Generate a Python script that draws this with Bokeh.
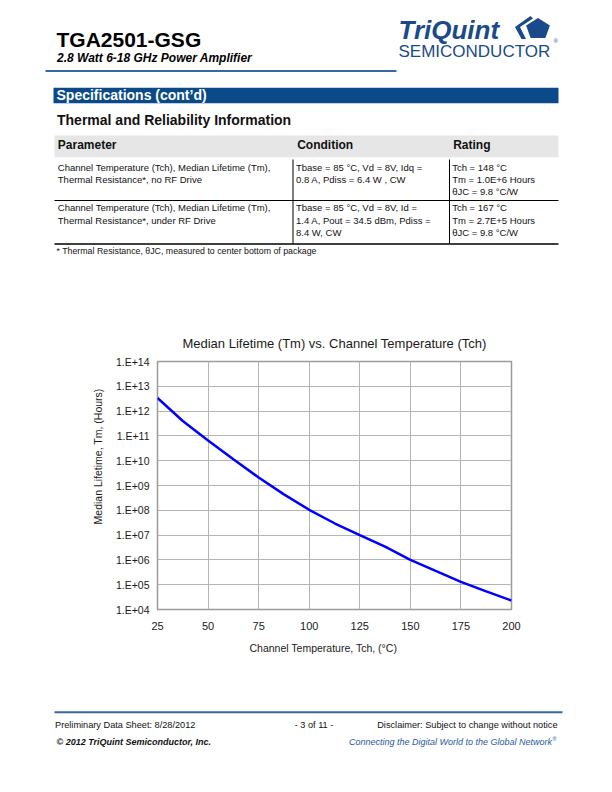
import numpy as np
from bokeh.plotting import figure
from bokeh.layouts import column
from bokeh.models import Range1d, FixedTicker, Title
from bokeh.core.properties import value
from bokeh.embed import file_html
from bokeh.resources import INLINE

# ---------------- data ----------------
temperature_c = [25, 37.5, 50, 62.5, 75, 87.5, 100, 112.5, 125, 137.5, 150, 162.5, 175, 187.5, 200]
median_lifetime_h = [3.4e12, 4.0e11, 6.5e10, 1.15e10, 2.1e9, 4.4e8, 1.05e8, 3.0e7, 1.0e7,
                     3.4e6, 1.0e6, 3.6e5, 1.3e5, 5.4e4, 2.3e4]
x_ticks = [25, 50, 75, 100, 125, 150, 175, 200]
y_ticks = [1e4, 1e5, 1e6, 1e7, 1e8, 1e9, 1e10, 1e11, 1e12, 1e13, 1e14]
y_tick_labels = ["1.E+04", "1.E+05", "1.E+06", "1.E+07", "1.E+08", "1.E+09",
                 "1.E+10", "1.E+11", "1.E+12", "1.E+13", "1.E+14"]

chart_title = "Median Lifetime (Tm) vs. Channel Temperature (Tch)"
x_label = "Channel Temperature, Tch, (°C)"
y_label = "Median Lifetime, Tm, (Hours)"

table_header = ["Parameter", "Condition", "Rating"]
row_parameter = [["Channel Temperature (Tch), Median Lifetime (Tm),", "Thermal Resistance*, no RF Drive"],
                 ["Channel Temperature (Tch), Median Lifetime (Tm),", "Thermal Resistance*, under RF Drive"]]
row_condition = [["Tbase = 85 °C, Vd = 8V, Idq =", "0.8 A, Pdiss = 6.4 W , CW"],
                 ["Tbase = 85 °C, Vd = 8V, Id =", "1.4 A, Pout = 34.5 dBm, Pdiss =", "8.4 W, CW"]]
row_rating = [["Tch = 148 °C", "Tm = 1.0E+6 Hours", "θJC  = 9.8 °C/W"],
              ["Tch = 167 °C", "Tm = 2.7E+5 Hours", "θJC  = 9.8 °C/W"]]
footnote = "* Thermal Resistance,  θJC, measured to center bottom of package"

FONT = "Liberation Sans"
BLUE = "#1a4a8a"
PAGE_W = 596


def page_fig(y_top, y_bottom):
    f = figure(width=PAGE_W, height=int(y_bottom - y_top), x_range=Range1d(0, PAGE_W),
               y_range=Range1d(y_bottom, y_top), output_backend="svg", toolbar_location=None,
               x_axis_location=None, y_axis_location=None, min_border=0)
    f.grid.visible = False
    f.outline_line_color = None
    f.background_fill_color = "white"
    f.border_fill_color = "white"
    f.frame_align = False
    return f


def txt(f, x, base, s, size, style="normal", color="#000000", align="left", font=FONT):
    f.text(x=[x], y=[base - 0.35 * size], text=[s], text_font=value(font),
           text_font_size=f"{size}px", text_font_style=style, text_color=color,
           text_align=align, text_baseline="middle")


# ---------------- top part of the page ----------------
top = page_fig(0, 320)
txt(top, 56, 46.7, "TGA2501-GSG", 21, "bold")
txt(top, 56.5, 62, "2.8 Watt 6-18 GHz Power Amplifier", 12, "bold italic")
top.segment(x0=[45], y0=[70.5], x1=[396], y1=[70.5], line_color="#3a66a3", line_width=2)

# logo
txt(top, 398, 38.5, "TriQuint", 26, "bold italic", BLUE)
txt(top, 398, 57, "SEMICONDUCTOR", 17, "normal", BLUE)
txt(top, 553, 43, "®", 6, "normal", BLUE)
ang = np.deg2rad(90 + np.arange(5) * 72)
top.patch(x=537.5 + 12.5 * np.cos(ang), y=28.5 - 11 * np.sin(ang), fill_color=BLUE, line_color=None)
top.patch(x=[530, 514.5, 521, 525.5, 519.5, 532.5], y=[15.5, 26.5, 38.5, 38.5, 26.5, 18],
          fill_color=BLUE, line_color=None)

# section bar
top.quad(left=[53], right=[558], top=[87.3], bottom=[102.7], fill_color="#0b4a88", line_color=None)
txt(top, 56, 99.5, "Specifications (cont’d)", 14, "bold", "white")
txt(top, 56.5, 124, "Thermal and Reliability Information", 14, "bold", "#111111")

# table
top.quad(left=[54], right=[558], top=[135], bottom=[156.7], fill_color="#e6e6e6", line_color=None)
col_x = [57.3, 295.5, 451.7]
for cx, h in zip([57.3, 296.7, 452.7], table_header):
    txt(top, cx, 148.5, h, 12, "bold", "#111111")
row_base = [170.0, 210.8]
for r in range(2):
    for ci, cell in enumerate([row_parameter[r], row_condition[r], row_rating[r]]):
        for li, line in enumerate(cell):
            txt(top, col_x[ci], row_base[r] + li * 12.4, line, 9.5, "normal", "#111111")
top.segment(x0=[54], y0=[200], x1=[558], y1=[200], line_color="#000000", line_width=1)
top.segment(x0=[54], y0=[243.5], x1=[558], y1=[243.5], line_color="#000000", line_width=1.5)
top.segment(x0=[292.5, 449], y0=[159, 159], x1=[292.5, 449], y1=[243, 243],
            line_color="#000000", line_width=1)
txt(top, 56, 253.5, footnote, 8.8, "normal", "#111111")

# ---------------- chart ----------------
p = figure(width=PAGE_W, height=360, x_range=Range1d(25, 200), y_range=Range1d(1e4, 1e14),
           y_axis_type="log", output_backend="svg", toolbar_location=None,
           min_border_left=157, min_border_right=85, min_border_top=41, min_border_bottom=71)
p.frame_align = False
p.background_fill_color = "white"
p.border_fill_color = "white"
p.outline_line_color = "#9a9a9a"
p.outline_line_width = 1.5

p.title.text = chart_title
p.title.align = "center"
p.title.text_font = FONT
p.title.text_font_size = "13px"
p.title.text_font_style = "normal"
p.title.text_color = "#1a1a1a"
p.title.standoff = 22

p.xaxis.ticker = FixedTicker(ticks=x_ticks)
p.yaxis.ticker = FixedTicker(ticks=y_ticks)
p.yaxis.major_label_overrides = {t: l for t, l in zip(y_ticks, y_tick_labels)}
p.xgrid.ticker = FixedTicker(ticks=x_ticks)
p.ygrid.ticker = FixedTicker(ticks=y_ticks)
for ax in (p.xaxis[0], p.yaxis[0]):
    ax.axis_line_color = None
    ax.major_tick_line_color = None
    ax.minor_tick_line_color = None
    ax.major_tick_out = 0
    ax.major_tick_in = 0
    ax.minor_tick_out = 0
    ax.major_label_text_font = FONT
    ax.major_label_text_color = "#1a1a1a"
p.xaxis.major_label_text_font_size = "11px"
p.yaxis.major_label_text_font_size = "10.5px"
p.xaxis.major_label_standoff = 12
p.yaxis.major_label_standoff = 8
p.grid.grid_line_color = "#b4b4b4"
p.grid.grid_line_width = 1

p.add_layout(Title(text=x_label, align="left", offset=92, standoff=15, text_font=FONT,
                   text_font_size="10.5px", text_font_style="normal", text_color="#1a1a1a"), "below")
p.add_layout(Title(text=y_label, align="right", offset=27, standoff=17, text_font=FONT,
                   text_font_size="10.5px", text_font_style="normal", text_color="#1a1a1a"), "left")

p.line(x=temperature_c, y=median_lifetime_h, line_color="#0000ff", line_width=2.5)

# ---------------- footer ----------------
bot = page_fig(680, 792)
bot.segment(x0=[54], y0=[711.7], x1=[562], y1=[711.7], line_color="#3567a8", line_width=2)
txt(bot, 54.5, 727.3, "Preliminary Data Sheet:  8/28/2012", 9.2, "normal", "#111111")
txt(bot, 313.5, 727.3, "- 3 of 11 -", 9.2, "normal", "#111111", align="center")
txt(bot, 557, 727.3, "Disclaimer: Subject to change without notice", 9.2, "normal", "#111111", align="right")
txt(bot, 56, 745, "© 2012 TriQuint Semiconductor, Inc.", 9, "bold italic", "#111111")
txt(bot, 551.5, 745, "Connecting the Digital World to the Global Network", 9, "italic", "#2a5aa0", align="right")
txt(bot, 552, 740.5, "®", 5.5, "normal", "#2a5aa0")

layout = column(top, p, bot, spacing=0)
open("out.html", "w").write(file_html(layout, INLINE))
